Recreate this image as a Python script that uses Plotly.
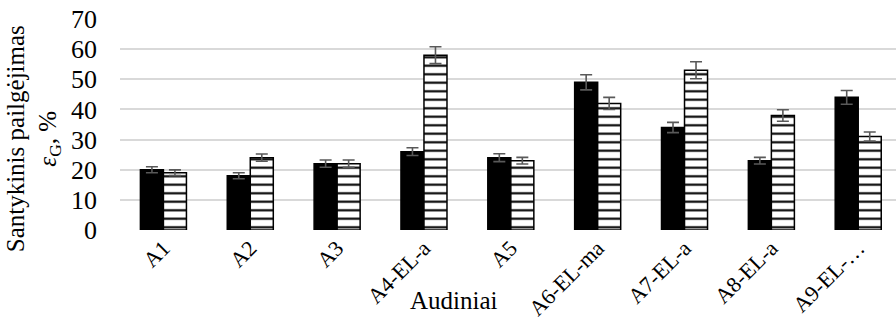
import plotly.graph_objects as go

# Fabric samples and relative elongation at break (two test directions)
categories = ["A1", "A2", "A3", "A4-EL-a", "A5", "A6-EL-ma", "A7-EL-a", "A8-EL-a", "A9-EL-…"]
series_solid = [20, 18, 22, 26, 24, 49, 34, 23, 44]
series_solid_err = [1.0, 1.0, 1.2, 1.3, 1.3, 2.5, 1.7, 1.1, 2.3]
series_hatched = [19, 24, 22, 58, 23, 42, 53, 38, 31]
series_hatched_err = [0.95, 1.2, 1.2, 2.8, 1.1, 2.0, 2.8, 1.9, 1.5]
y_ticks = [0, 10, 20, 30, 40, 50, 60, 70]

FONT = "Liberation Serif"
ERR_COLOR = "#595959"

fig = go.Figure()
fig.add_trace(go.Bar(
    x=categories, y=series_solid,
    marker=dict(color="black", line=dict(color="black", width=1.5)),
    error_y=dict(type="data", array=series_solid_err, color=ERR_COLOR,
                 thickness=1.6, width=6),
    showlegend=False,
))
fig.add_trace(go.Bar(
    x=categories, y=series_hatched,
    marker=dict(
        color="white",
        line=dict(color="black", width=1.5),
        pattern=dict(shape="-", size=8.5, solidity=0.25,
                     fgcolor="black", bgcolor="white", fillmode="replace"),
    ),
    error_y=dict(type="data", array=series_hatched_err, color=ERR_COLOR,
                 thickness=1.6, width=6),
    showlegend=False,
))

fig.update_layout(
    width=896, height=321,
    margin=dict(l=120, r=0, t=19, b=91, autoexpand=False),
    paper_bgcolor="white", plot_bgcolor="white",
    barmode="group", bargap=0.47, bargroupgap=0,
    font=dict(family=FONT, size=25, color="black"),
    xaxis=dict(
        range=[-0.5, 8.435],
        tickangle=-45,
        tickfont=dict(family=FONT, size=22),
        showgrid=False, showline=False, zeroline=False,
        ticks="", ticklabelstandoff=0, automargin=False,
    ),
    yaxis=dict(
        range=[0, 70],
        tickvals=y_ticks,
        tickfont=dict(family=FONT, size=26),
        showgrid=True, gridcolor="#d9d9d9", gridwidth=1.5,
        zeroline=False, showline=False,
        ticks="", ticklabelstandoff=22, automargin=False,
    ),
    annotations=[
        dict(text="Santykinis pailgėjimas<br><i>ε</i><sub>G</sub>, %",
             textangle=-90, xref="paper", yref="paper",
             x=-120 / 776, y=0.43, xanchor="left", yanchor="middle",
             showarrow=False, font=dict(family=FONT, size=25)),
        dict(text="Audiniai", xref="paper", yref="paper",
             x=(454 - 120) / 776, y=-86 / 211, xanchor="center", yanchor="bottom",
             showarrow=False, font=dict(family=FONT, size=25)),
    ],
)

fig.write_html("out.html")
